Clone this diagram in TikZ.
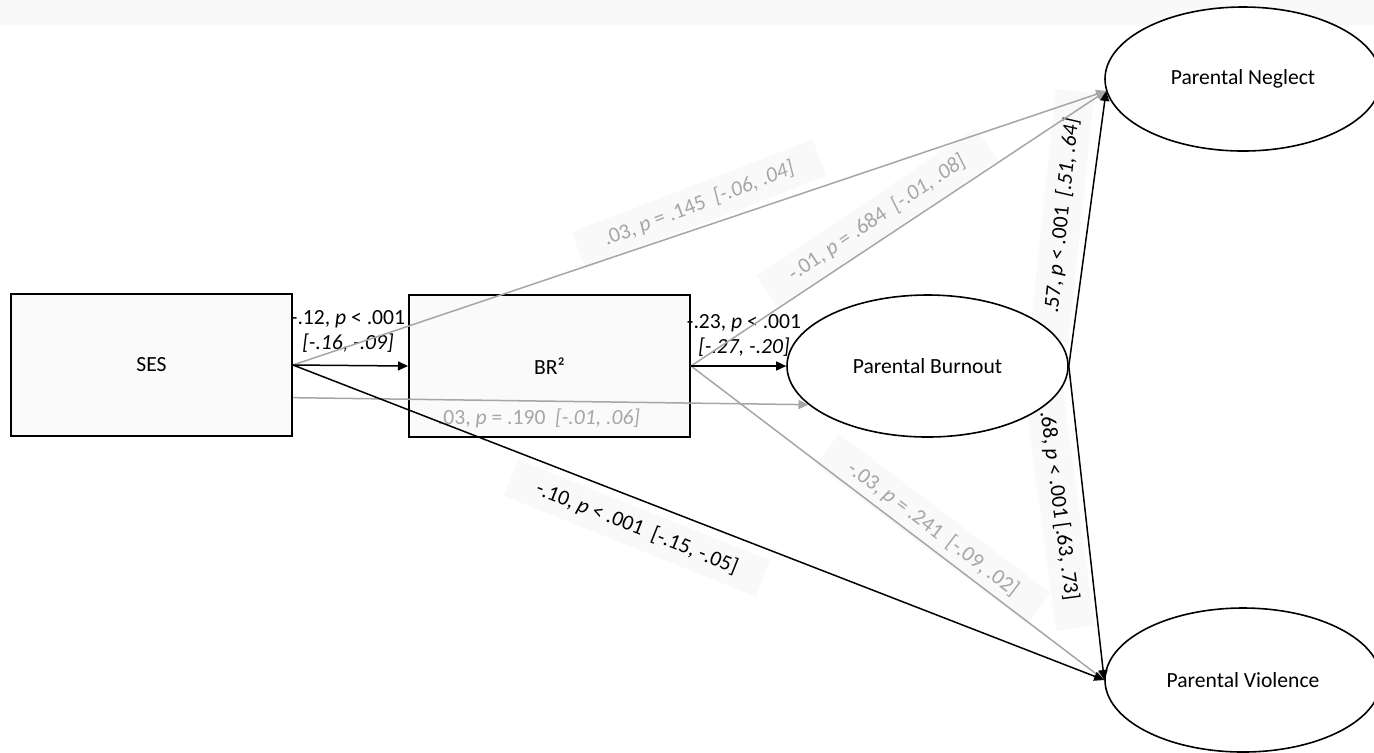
\documentclass[tikz,border=0pt]{standalone}
\usepackage{fontspec}
\setmainfont{Carlito}
\usetikzlibrary{arrows.meta,shapes.geometric}
\definecolor{lgray}{HTML}{A6A6A6}
\definecolor{bgray}{HTML}{F9F9F9}
\definecolor{boxfill}{HTML}{FAFAFA}
\begin{document}
\begin{tikzpicture}[x=0.5pt,y=-0.5pt,
  font=\fontsize{10.8pt}{12.5pt}\selectfont,
  box/.style={draw, line width=1pt, fill=boxfill, minimum width=140.5pt, minimum height=71pt, inner sep=0pt},
  oval/.style={ellipse, draw, line width=0.8pt, fill=white, inner sep=0pt},
  blk/.style={draw=black, line width=0.75pt, -{Triangle[length=5pt,width=4.5pt]}},
  gry/.style={draw=lgray, line width=0.75pt, -{Triangle[length=5pt,width=4.5pt]}},
  lab/.style={inner sep=1pt},
  rlab/.style={fill=bgray, inner xsep=14pt, inner ysep=5pt},
  glab/.style={text=lgray}
]
\useasboundingbox (0,0) rectangle (1374,752);
\fill[bgray] (0,0) rectangle (1374,25);

% rotated labels (drawn first, behind shapes)
\node[rlab, glab, rotate=21] (l4) at (699,204) {.03, \textit{p} = .145\ \ \textit{[-.06, .04]}};
\node[rlab, glab, rotate=34] (l5) at (877,218) {-.01, \textit{p} = .684\ \ \textit{[-.01, .08]}};
\node[rlab, rotate=84] (l6) at (1062,216) {.57, \textit{p} < .001\ \ \textit{[.51, .64]}};
\node[rlab, rotate=-82.4] (l7) at (1059,506) {.68, \textit{p} < .001 [.63, .73]};
\node[rlab, rotate=-21.8] (l8) at (637,528) {-.10, \textit{p} < .001\ \ [-.15, -.05]};
\node[rlab, glab, rotate=-37] (l9) at (933,529) {-.03, \textit{p} = .241\ \ [-.09, .02]};

% nodes
\node[box] (SES) at (151.5,365) {SES};
\node[box] (BR) at (549.5,366) {BR²};
\node[oval, minimum width=140.5pt, minimum height=71pt] (PB) at (927.5,366) {Parental Burnout};
\node[oval, minimum width=138pt, minimum height=72pt] (PN) at (1243,79) {Parental Neglect};
\node[oval, minimum width=138pt, minimum height=72pt] (PV) at (1243,680) {Parental Violence};

% horizontal labels
\node[lab, align=center] (l1) at (348,331) {-.12, \textit{p} < .001\\\textit{[-.16, -.09]}};
\node[lab, align=center] (l2) at (744,335) {-.23, \textit{p} < .001\\\textit{[-.27, -.20]}};
\node[lab, glab] (l3) at (539,418) {.03, \textit{p} = .190\ \ \textit{[-.01, .06]}};

% connectors
\draw[gry] (SES.east) -- (PN.185);
\draw[gry] (SES.-13.6) -- (PB.198);
\draw[gry] (BR.east) -- (PN.185);
\draw[gry] (BR.east) -- (PV.west);
\draw[blk] (SES.east) -- (BR.west);
\draw[blk] (SES.east) -- (PV.west);
\draw[blk] (BR.east) -- (PB.west);
\draw[blk] (PB.east) -- (PN.185);
\draw[blk] (PB.east) -- (PV.west);
\end{tikzpicture}
\end{document}
